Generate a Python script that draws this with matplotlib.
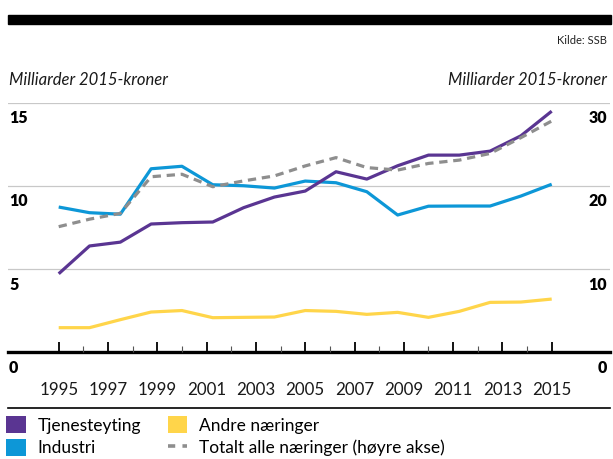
import numpy as np
import matplotlib
matplotlib.use("Agg")
import matplotlib.pyplot as plt
from matplotlib.patches import Rectangle, Patch
from matplotlib.lines import Line2D
from matplotlib.transforms import blended_transform_factory

plt.rcParams['font.family'] = ['Lato', 'DejaVu Sans']

# Verdiskaping, milliarder 2015-kroner
tjenesteyting = [4.72, 6.39, 6.62, 7.71, 7.79, 7.83, 8.69, 9.33, 9.69, 10.85,
                 10.41, 11.21, 11.85, 11.85, 12.09, 13.01, 14.49]
industri = [8.73, 8.39, 8.30, 11.03, 11.18, 10.07, 10.01, 9.87, 10.29, 10.19,
            9.65, 8.25, 8.78, 8.79, 8.79, 9.39, 10.10]
andre = [1.48, 1.48, 1.96, 2.42, 2.51, 2.08, 2.10, 2.12, 2.51, 2.46,
         2.28, 2.40, 2.10, 2.46, 3.00, 3.02, 3.20]
totalt = [15.1, 16.0, 16.7, 21.1, 21.4, 19.9, 20.6, 21.2, 22.4, 23.4,
          22.2, 21.9, 22.7, 23.1, 23.9, 25.8, 27.8]

year_ticks = list(range(1995, 2016))
year_labels = [str(y) for y in range(1995, 2016, 2)]
left_ticks = [0, 5, 10, 15]
right_ticks = [0, 10, 20, 30]

c_purple = '#5a3592'
c_blue = '#0d97d7'
c_yellow = '#ffd54a'
c_gray = '#8e8e8e'

W, H = 613, 459
fig = plt.figure(figsize=(W / 100, H / 100), dpi=100)

# axes placement in pixels
ax_left, ax_right = 8, 610
ax_top, ax_bottom = 102.7, 352.3
ax = fig.add_axes([ax_left / W, 1 - ax_bottom / H,
                   (ax_right - ax_left) / W, (ax_bottom - ax_top) / H])

x = np.linspace(1995, 2015, len(tjenesteyting))
px_per_year = 24.65
ax.set_xlim(1995 - (58.7 - ax_left) / px_per_year,
            1995 + (ax_right - 58.7) / px_per_year)
ax.set_ylim(0, 15)

for s in ax.spines.values():
    s.set_visible(False)
ax.set_xticks([])
ax.set_yticks([])

# gridlines
for v in left_ticks[1:]:
    ax.axhline(v, color='#c8c8c8', lw=0.9, zorder=1)

ax2 = ax.twinx()
ax2.set_ylim(0, 30)
ax2.set_xlim(ax.get_xlim())
for s in ax2.spines.values():
    s.set_visible(False)
ax2.set_yticks([])
ax2.set_xticks([])

ax.plot(x, andre, color=c_yellow, lw=2.3, zorder=3, solid_capstyle='butt')
ax.plot(x, industri, color=c_blue, lw=2.3, zorder=3, solid_capstyle='butt')
ax2.plot(x, totalt, color=c_gray, lw=2.3, dashes=(2.6, 1.8), zorder=3)
ax.plot(x, tjenesteyting, color=c_purple, lw=2.3, zorder=4, solid_capstyle='butt')

# zero axis and ticks
ax.axhline(0, color='black', lw=2.4, zorder=5, clip_on=False)
blend = blended_transform_factory(ax.transData, ax.transAxes)
for yr in year_ticks:
    major = (yr - 1995) % 2 == 0
    h = 10 if major else 6
    ax.plot([yr, yr], [0, h / (ax_bottom - ax_top)], transform=blend,
            color='black' if major else '#555555', lw=1.3 if major else 0.8,
            zorder=5, clip_on=False, solid_capstyle='butt')

for yl in year_labels:
    ax.text(int(yl), -(390 - ax_bottom) / (ax_bottom - ax_top), yl,
            transform=blend, ha='center', va='center', fontsize=12.2,
            color='#1a1a1a')

# y tick labels placed beneath their gridlines
ylab = blended_transform_factory(fig.transFigure, ax.transData)
for v in left_ticks:
    fig.text(9 / W, v - 0.45, str(v), ha='left', va='top', fontsize=11.5,
             fontweight='heavy', transform=ylab)
for v in right_ticks:
    fig.text(607 / W, v / 2 - 0.45, str(v), ha='right', va='top', fontsize=11.5,
             fontweight='heavy', transform=ylab)

# header
fig.patches.append(Rectangle((8 / W, 1 - 24 / H), (611 - 8) / W, 9.5 / H,
                             transform=fig.transFigure, color='black'))
fig.text(607 / W, 1 - 41 / H, 'Kilde: SSB', ha='right', va='center',
         fontsize=8, color='#222222')
fig.text(9 / W, 1 - 80 / H, 'Milliarder 2015-kroner', ha='left', va='center',
         fontsize=12, style='italic', color='#1a1a1a')
fig.text(607 / W, 1 - 80 / H, 'Milliarder 2015-kroner', ha='right', va='center',
         fontsize=12, style='italic', color='#1a1a1a')

# separator above legend
fig.add_artist(Line2D([8 / W, 610 / W], [1 - 408 / H, 1 - 408 / H],
                      color='black', lw=1.2, transform=fig.transFigure))

handles = [Patch(facecolor=c_purple, edgecolor='none'),
           Patch(facecolor=c_blue, edgecolor='none'),
           Patch(facecolor=c_yellow, edgecolor='none'),
           Line2D([0], [0], color=c_gray, lw=2.6, dashes=(2.0, 2.0))]
labels = ['Tjenesteyting', 'Industri', 'Andre næringer',
          'Totalt alle næringer (høyre akse)']
fig.legend(handles, labels, ncol=2, loc='upper left',
           bbox_to_anchor=(3 / W, 1 - 413 / H), frameon=False,
           fontsize=12.5, handlelength=1.1, handleheight=1.1,
           handletextpad=0.7, columnspacing=1.55, labelspacing=0.3,
           borderpad=0.2, borderaxespad=0)

fig.savefig('out.png', dpi=100)
